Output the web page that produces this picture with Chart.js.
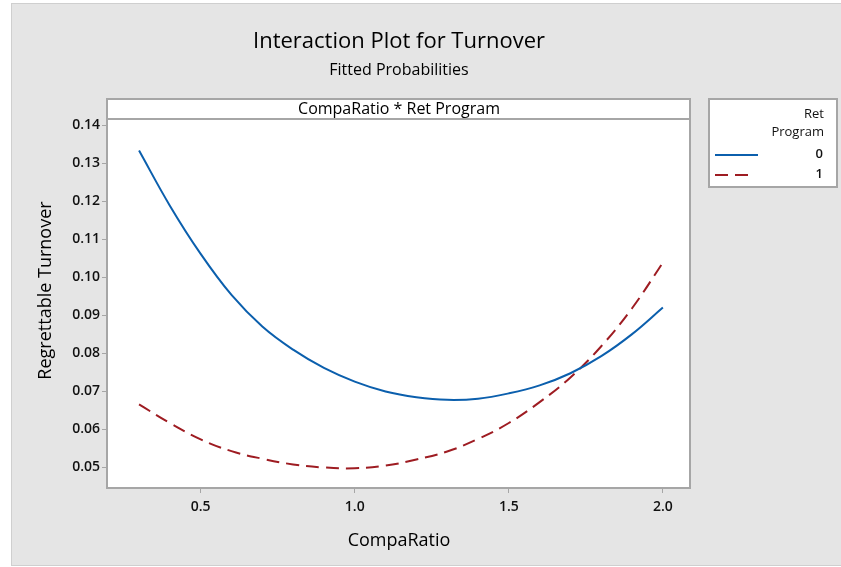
<!DOCTYPE html>
<html>
<head>
<meta charset="utf-8">
<script src="https://cdn.jsdelivr.net/npm/chart.js@4/dist/chart.umd.min.js"></script>
<style>
html,body{margin:0;padding:0;background:#ffffff;}
canvas{display:block;}
</style>
</head>
<body>
<canvas id="c" width="841" height="567"></canvas>
<script>
// ---- data ----
const compaRatio = [0.3,0.4,0.5,0.6,0.7,0.8,0.9,1.0,1.1,1.2,1.3,1.4,1.5,1.6,1.7,1.8,1.9,2.0];
const retProgram0 = [0.1333,0.1188,0.1061,0.0953,0.0870,0.0809,0.0761,0.0725,0.0699,0.0684,0.0677,0.0680,0.0694,0.0715,0.0747,0.0792,0.0850,0.0920];
const retProgram1 = [0.0665,0.0616,0.0573,0.0542,0.0522,0.0507,0.0499,0.0497,0.0504,0.0520,0.0541,0.0574,0.0616,0.0671,0.0736,0.0818,0.0918,0.1038];
const seriesNames = ['0','1'];
const xTickValues = [0.5,1.0,1.5,2.0];
const yTickValues = [0.05,0.06,0.07,0.08,0.09,0.10,0.11,0.12,0.13,0.14];
const titleText = 'Interaction Plot for Turnover';
const subtitleText = 'Fitted Probabilities';
const panelText = 'CompaRatio * Ret Program';
const xTitle = 'CompaRatio';
const yTitle = 'Regrettable Turnover';
const legendTitle = ['Ret','Program'];

const BLUE = '#0b5fad';
const RED = '#9e1c22';
const FRAME = '#a6a6a6';
const FONT = '"Open Sans", "Noto Sans", sans-serif';

const decor = {
  id: 'decor',
  beforeDraw(chart) {
    const ctx = chart.ctx;
    const a = chart.chartArea;
    ctx.save();
    ctx.fillStyle = '#ffffff';
    ctx.fillRect(0, 0, chart.width, chart.height);
    ctx.fillStyle = '#e5e5e5';
    ctx.fillRect(11, 3, chart.width - 11, chart.height - 4);
    ctx.strokeStyle = '#cfcfcf';
    ctx.lineWidth = 1;
    ctx.strokeRect(11.5, 3.5, chart.width - 11, chart.height - 5);
    ctx.fillStyle = '#ffffff';
    ctx.fillRect(a.left, a.top - 20, a.right - a.left, a.bottom - a.top + 20);
    ctx.restore();
  },
  afterDatasetsDraw(chart) {
    const ctx = chart.ctx;
    const a = chart.chartArea;
    ctx.save();
    ctx.strokeStyle = FRAME;
    ctx.lineWidth = 2;
    ctx.strokeRect(a.left, a.top - 20, a.right - a.left, a.bottom - a.top + 20);
    ctx.beginPath();
    ctx.moveTo(a.left, a.top);
    ctx.lineTo(a.right, a.top);
    ctx.stroke();
    const cx = (a.left + a.right) / 2 + 0.5;
    ctx.fillStyle = '#000000';
    ctx.textAlign = 'center';
    ctx.textBaseline = 'middle';
    ctx.font = '16px ' + FONT;
    ctx.fillText(panelText, cx, a.top - 10);
    ctx.font = '500 22px ' + FONT;
    ctx.fillText(titleText, cx, 42);
    ctx.font = '500 16px ' + FONT;
    ctx.fillText(subtitleText, cx, 70);
    ctx.font = '18px ' + FONT;
    ctx.fillText(xTitle, cx, 541);
    ctx.save();
    ctx.translate(46, (a.top + a.bottom) / 2 - 13);
    ctx.rotate(-Math.PI / 2);
    ctx.fillText(yTitle, 0, 0);
    ctx.restore();
    // legend
    const lx = 709, ly = 99, lw = 128, lh = 88;
    ctx.fillStyle = '#ffffff';
    ctx.fillRect(lx, ly, lw, lh);
    ctx.strokeStyle = FRAME;
    ctx.lineWidth = 2;
    ctx.strokeRect(lx, ly, lw, lh);
    ctx.fillStyle = '#111111';
    ctx.textAlign = 'right';
    ctx.font = '13px ' + FONT;
    ctx.fillText(legendTitle[0], 824, 114);
    ctx.fillText(legendTitle[1], 824, 132);
    ctx.font = '600 13px ' + FONT;
    const rows = [154, 174];
    chart.data.datasets.forEach((ds, i) => {
      ctx.strokeStyle = ds.borderColor;
      ctx.lineWidth = 2;
      ctx.setLineDash(ds.borderDash || []);
      ctx.beginPath();
      ctx.moveTo(715, rows[i] + 1);
      ctx.lineTo(i === 0 ? 758 : 754, rows[i] + 1);
      ctx.stroke();
      ctx.setLineDash([]);
      ctx.fillStyle = '#111111';
      ctx.fillText(seriesNames[i], 823, rows[i]);
    });
    ctx.restore();
  }
};

new Chart(document.getElementById('c'), {
  type: 'line',
  data: {
    datasets: [
      {
        label: seriesNames[0],
        data: compaRatio.map((x, i) => ({x: x, y: retProgram0[i]})),
        borderColor: BLUE,
        borderWidth: 2,
        pointRadius: 0,
        fill: false,
        tension: 0.4
      },
      {
        label: seriesNames[1],
        data: compaRatio.map((x, i) => ({x: x, y: retProgram1[i]})),
        borderColor: RED,
        borderWidth: 2,
        borderDash: [13, 7],
        pointRadius: 0,
        fill: false,
        tension: 0.4
      }
    ]
  },
  options: {
    responsive: false,
    animation: false,
    events: [],
    layout: { padding: { left: 0, right: 151, top: 119, bottom: 0 } },
    plugins: { legend: { display: false }, title: { display: false }, tooltip: { enabled: false } },
    scales: {
      x: {
        type: 'linear',
        min: 0.196,
        max: 2.088,
        afterBuildTicks(scale) { scale.ticks = xTickValues.map(v => ({value: v})); },
        afterFit(scale) { scale.height = 79; },
        grid: { drawOnChartArea: false, drawTicks: true, tickLength: 5, color: FRAME, lineWidth: 1 },
        border: { display: false },
        ticks: {
          padding: 6,
          color: '#111111',
          font: { family: FONT, size: 14, weight: '600' },
          callback: v => v.toFixed(1),
          maxRotation: 0
        }
      },
      y: {
        type: 'linear',
        min: 0.0445,
        max: 0.1416,
        afterBuildTicks(scale) { scale.ticks = yTickValues.map(v => ({value: v})); },
        afterFit(scale) { scale.width = 107; },
        grid: { drawOnChartArea: false, drawTicks: true, tickLength: 5, color: FRAME, lineWidth: 1 },
        border: { display: false },
        ticks: {
          padding: 2,
          color: '#111111',
          font: { family: FONT, size: 14, weight: '600' },
          callback: v => v.toFixed(2)
        }
      }
    }
  },
  plugins: [decor]
});
</script>
</body>
</html>
